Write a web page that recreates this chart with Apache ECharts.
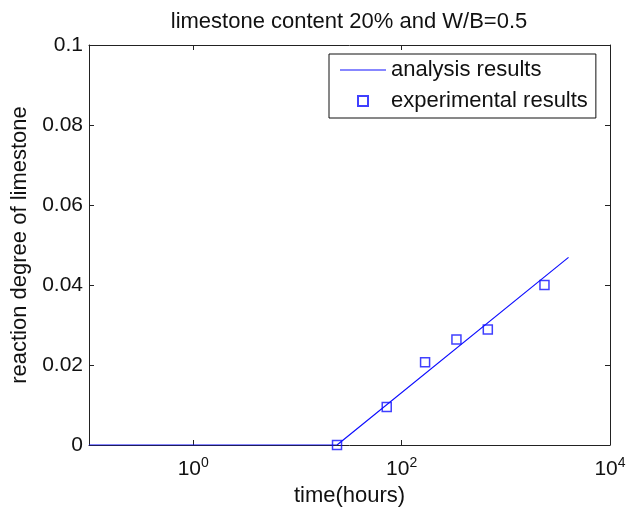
<!DOCTYPE html>
<html>
<head>
<meta charset="utf-8">
<script src="https://cdn.jsdelivr.net/npm/echarts@6/dist/echarts.min.js"></script>
<style>
  html, body { margin: 0; padding: 0; background: #fff; }
  #chart { width: 626px; height: 507px; }
</style>
</head>
<body>
<div id="chart"></div>
<script>
// Reaction degree of limestone vs. curing time (hours), log time axis
const analysisTime = [0.1, 24, 4000];
const analysisDegree = [0, 0, 0.0469];

const experimentTime = [24, 72, 168, 336, 672, 2350];
const experimentDegree = [0, 0.0095, 0.0207, 0.0264, 0.0289, 0.0400];

const xTickValues = [1, 100, 10000];
const yTickStep = 0.02;

const FONT = "'Liberation Sans', Arial, sans-serif";
const BLUE = '#1010ff';
const AXIS = '#222';

const pairs = (xs, ys) => xs.map((x, i) => [x, ys[i]]);

const xAxisBase = {
  type: 'log',
  logBase: 10,
  min: 0.1,
  max: 10000,
  axisLine: { show: true, onZero: false, lineStyle: { color: AXIS, width: 1 } },
  axisTick: { show: true, inside: true, length: 5, customValues: xTickValues, lineStyle: { color: AXIS } },
  splitLine: { show: false },
  minorTick: { show: false }
};

const yAxisBase = {
  type: 'value',
  min: 0,
  max: 0.1,
  interval: yTickStep,
  axisLine: { show: true, onZero: false, lineStyle: { color: AXIS, width: 1 } },
  axisTick: { show: true, inside: true, length: 5, lineStyle: { color: AXIS } },
  splitLine: { show: false }
};

const chart = echarts.init(document.getElementById('chart'), null, { renderer: 'canvas' });

chart.setOption({
  backgroundColor: '#fff',
  animation: false,
  textStyle: { fontFamily: FONT },
  title: {
    text: 'limestone content 20% and W/B=0.5',
    left: 349,
    textAlign: 'center',
    top: 11,
    padding: 0,
    textStyle: { fontFamily: FONT, fontSize: 22, fontWeight: 'normal', color: '#111' }
  },
  grid: { left: 89, right: 16, top: 45, bottom: 62, containLabel: false, outerBoundsMode: 'none' },
  legend: {
    orient: 'vertical',
    left: 329,
    top: 54,
    padding: [5, 8, 6, 11],
    itemWidth: 46,
    itemHeight: 10,
    itemGap: 9,
    symbolKeepAspect: true,
    backgroundColor: '#fff',
    borderColor: '#111',
    borderWidth: 1,
    borderRadius: 0,
    textStyle: { fontFamily: FONT, fontSize: 22, color: '#111' },
    data: [
      { name: 'analysis results', icon: 'path://M0,0H46V1.2H0Z' },
      { name: 'experimental results', icon: 'path://M0,0H10V10H0Z' }
    ]
  },
  xAxis: [
    Object.assign({}, xAxisBase, {
      position: 'bottom',
      name: 'time(hours)',
      nameLocation: 'middle',
      nameGap: 36,
      nameTextStyle: { fontFamily: FONT, fontSize: 22, color: '#111' },
      axisLabel: {
        show: true,
        margin: 11,
        customValues: xTickValues,
        color: '#111',
        formatter: v => '{b|10}{s|' + Math.round(Math.log10(v)) + '}',
        rich: {
          b: { fontFamily: FONT, fontSize: 21, color: '#111', verticalAlign: 'bottom', lineHeight: 24 },
          s: { fontFamily: FONT, fontSize: 14, color: '#111', verticalAlign: 'top', lineHeight: 24 }
        }
      }
    }),
    Object.assign({}, xAxisBase, { position: 'top', axisLabel: { show: false } })
  ],
  yAxis: [
    Object.assign({}, yAxisBase, {
      position: 'left',
      name: 'reaction degree of limestone',
      nameLocation: 'middle',
      nameGap: 55,
      nameTextStyle: { fontFamily: FONT, fontSize: 22, color: '#111' },
      axisLabel: { show: true, margin: 6, fontFamily: FONT, fontSize: 21, color: '#111' }
    }),
    Object.assign({}, yAxisBase, { position: 'right', axisLabel: { show: false } })
  ],
  series: [
    {
      name: 'analysis results',
      type: 'line',
      xAxisIndex: 0,
      yAxisIndex: 0,
      data: pairs(analysisTime, analysisDegree),
      symbol: 'none',
      lineStyle: { color: BLUE, width: 1.2 },
      itemStyle: { color: BLUE },
      z: 2
    },
    {
      name: 'experimental results',
      type: 'scatter',
      xAxisIndex: 0,
      yAxisIndex: 0,
      data: pairs(experimentTime, experimentDegree),
      symbol: 'rect',
      symbolSize: 9,
      itemStyle: { color: 'transparent', borderColor: BLUE, borderWidth: 1.5 },
      z: 3
    }
  ]
});
</script>
</body>
</html>
